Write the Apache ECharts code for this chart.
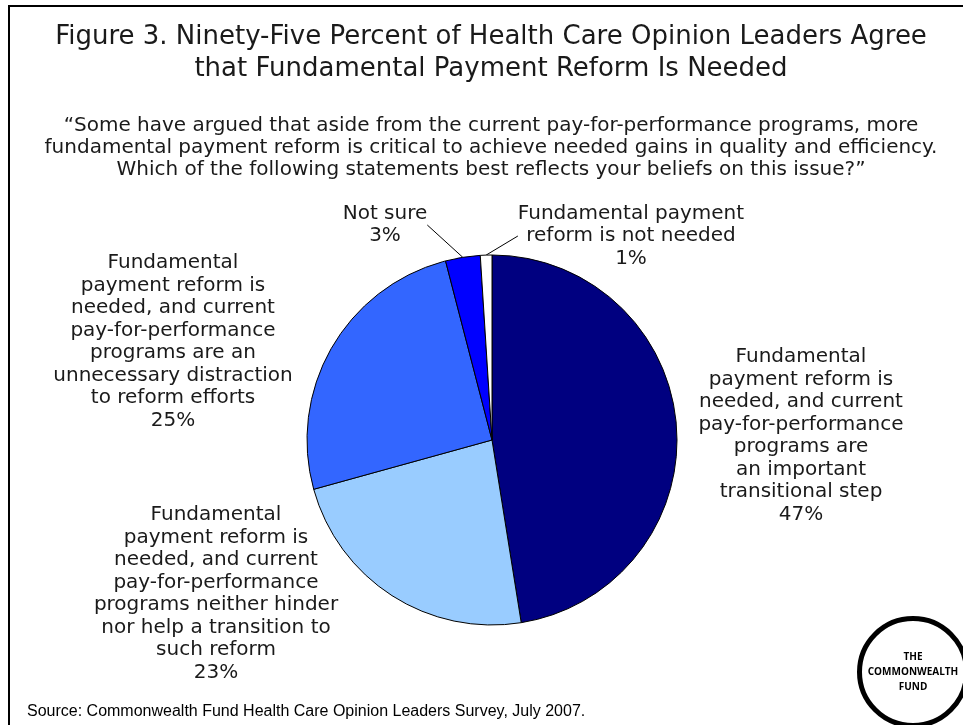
<!DOCTYPE html>
<html>
<head>
<meta charset="utf-8">
<script src="https://cdn.jsdelivr.net/npm/echarts@6/dist/echarts.min.js"></script>
<style>
html,body{margin:0;padding:0;background:#fff;}
#chart{width:963px;height:725px;}
</style>
</head>
<body>
<div id="chart"></div>
<script>
// ---- data ----
const categories = [
  'Fundamental\npayment reform is\nneeded, and current\npay-for-performance\nprograms are\nan important\ntransitional step',
  'Fundamental\npayment reform is\nneeded, and current\npay-for-performance\nprograms neither hinder\nnor help a transition to\nsuch reform',
  'Fundamental\npayment reform is\nneeded, and current\npay-for-performance\nprograms are an\nunnecessary distraction\nto reform efforts',
  'Not sure',
  'Fundamental payment\nreform is not needed'
];
const values = [47, 23, 25, 3, 1];
const sliceColors = ['#000080', '#99CCFF', '#3366FF', '#0000FF', '#FFFFFF'];
const titleLines = ['Figure 3. Ninety-Five Percent of Health Care Opinion Leaders Agree', 'that Fundamental Payment Reform Is Needed'];
const questionLines = ['\u201CSome have argued that aside from the current pay-for-performance programs, more',
  'fundamental payment reform is critical to achieve needed gains in quality and efficiency.',
  'Which of the following statements best reflects your beliefs on this issue?\u201D'];
const sourceText = 'Source: Commonwealth Fund Health Care Opinion Leaders Survey, July 2007.';

// ---- layout (label anchor positions, not data) ----
const labelPos = [[801, 436], [216, 594], [173, 342], [385, 225], [631, 236]];
const showLine = [false, false, false, true, true];

const chart = echarts.init(document.getElementById('chart'));
const FONT = '"DejaVu Sans", Verdana, sans-serif';

const option = {
  animation: false,
  backgroundColor: '#fff',
  graphic: [
    { type: 'polyline', shape: { points: [[9, 725], [9, 6], [963, 6]] }, style: { stroke: '#000', lineWidth: 2, fill: null } },
    { type: 'text', style: { text: titleLines.join('\n'), x: 491, y: 21, textAlign: 'center', textVerticalAlign: 'top', fontSize: 26, fontFamily: FONT, lineHeight: 32, fill: '#1a1a1a' } },
    { type: 'text', style: { text: questionLines.join('\n'), x: 491, y: 115, textAlign: 'center', textVerticalAlign: 'top', fontSize: 20, fontFamily: FONT, lineHeight: 22, fill: '#1a1a1a' } },
    { type: 'text', style: { text: sourceText, x: 27, y: 712, textAlign: 'left', textVerticalAlign: 'middle', fontSize: 16, fontFamily: '"Liberation Sans", Arial, sans-serif', fill: '#000' } },
    { type: 'circle', shape: { cx: 913, cy: 672, r: 53.5 }, style: { stroke: '#000', lineWidth: 5, fill: '#fff' } },
    { type: 'text', style: { text: 'THE\nCOMMONWEALTH\nFUND', x: 913, y: 672, textAlign: 'center', textVerticalAlign: 'middle', fontSize: 10, fontWeight: 'bold', fontFamily: '"Open Sans", sans-serif', lineHeight: 15, fill: '#000' } }
  ],
  series: [{
    type: 'pie',
    center: [492, 440],
    radius: 185,
    startAngle: 90,
    clockwise: true,
    avoidLabelOverlap: false,
    itemStyle: { borderColor: '#000', borderWidth: 1 },
    label: {
      show: true,
      position: 'outside',
      color: '#1a1a1a',
      fontFamily: FONT,
      fontSize: 20,
      lineHeight: 22.5,
      align: 'center',
      formatter: p => p.name + '\n' + p.value + '%'
    },
    labelLine: { show: true, length: 20, length2: 0, lineStyle: { color: '#000', width: 1 } },
    labelLayout: params => {
      const pos = labelPos[params.dataIndex];
      return { x: pos[0], y: pos[1], align: 'center', verticalAlign: 'middle' };
    },
    emphasis: { disabled: true },
    data: categories.map((c, i) => ({
      name: c,
      value: values[i],
      itemStyle: { color: sliceColors[i] },
      labelLine: { show: showLine[i] }
    }))
  }]
};
chart.setOption(option);
</script>
</body>
</html>
